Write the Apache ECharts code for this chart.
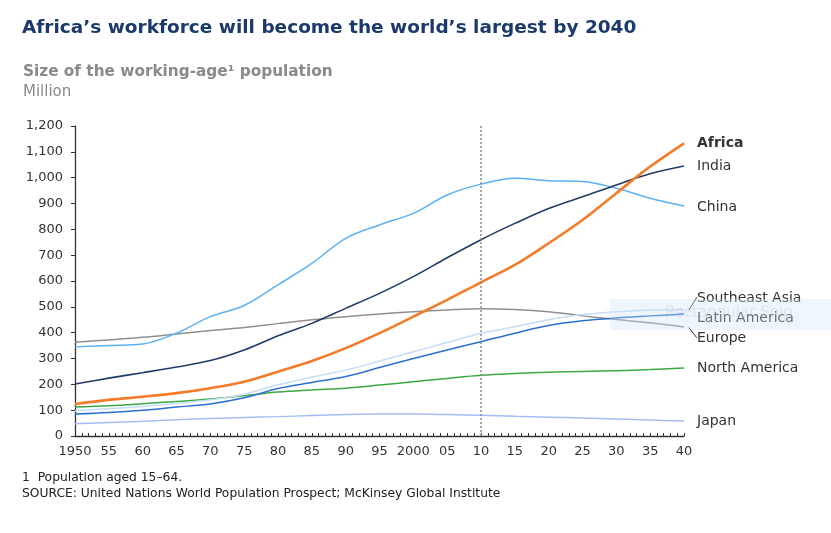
<!DOCTYPE html>
<html>
<head>
<meta charset="utf-8">
<script src="https://cdn.jsdelivr.net/npm/echarts@6/dist/echarts.min.js"></script>
<style>
html,body{margin:0;padding:0;background:#fff;}
#chart{width:831px;height:533px;}
</style>
</head>
<body>
<div id="chart"></div>
<script>
var years = [1950,1955,1960,1965,1970,1975,1980,1985,1990,1995,2000,2005,2010,2015,2020,2025,2030,2035,2040];
var xTickLabels = ['1950','55','60','65','70','75','80','85','90','95','2000','05','10','15','20','25','30','35','40'];
var africa   = [124,140,152,166,185,210,249,290,340,398,462,527,595,662,746,836,940,1043,1133];
var india    = [201,224,245,267,292,333,388,436,494,552,617,690,760,823,881,926,972,1015,1045];
var china    = [345,350,356,398,462,505,585,668,765,817,862,933,975,998,988,985,959,920,890];
var seAsia   = [98,106,114,126,140,162,198,228,255,290,326,362,398,423,450,470,481,487,490];
var latAm    = [85,91,100,112,124,148,184,207,230,265,300,333,365,398,428,446,457,465,472];
var europe   = [363,372,382,395,408,420,435,450,462,472,481,488,493,490,481,465,451,438,422];
var nAmerica = [112,117,125,134,143,156,170,178,185,197,210,223,235,242,247,250,253,257,263];
var japan    = [47,52,57,63,68,72,75,79,83,85,85,83,80,76,73,70,66,62,58];
var markerYear = 2010;

function pairs(vals){ return years.map(function(y,i){ return [y, vals[i]]; }); }

var font = '"DejaVu Sans", "Liberation Sans", Arial, sans-serif';

function mk(name, vals, color, width, labelOpts, extra){
  var s = {
    name: name, type: 'line', data: pairs(vals), smooth: 0.35, showSymbol: false,
    lineStyle: {color: color, width: width}, itemStyle: {color: color},
    silent: true,
    endLabel: Object.assign({show: true, formatter: name, color: '#333', fontSize: 14, fontFamily: font, distance: 13}, labelOpts || {}),
    z: 3
  };
  if (extra) Object.assign(s, extra);
  return s;
}

var chart = echarts.init(document.getElementById('chart'), null, {renderer: 'canvas'});
var option = {
  animation: false,
  backgroundColor: '#fff',
  grid: {left: 75, right: 147, top: 126, bottom: 97, containLabel: false},
  xAxis: {
    type: 'value', min: 1950, max: 2040, interval: 5,
    axisLine: {show: true, lineStyle: {color: '#333', width: 1.3}},
    axisTick: {show: true, inside: true, length: 3, lineStyle: {color: '#333'}},
    minorTick: {show: true, splitNumber: 5, length: 3, lineStyle: {color: '#333'}},
    splitLine: {show: false},
    axisLabel: {color: '#333', fontSize: 13, fontFamily: font, margin: 9,
      formatter: function(v){ var i = years.indexOf(v); return i >= 0 ? xTickLabels[i] : ''; }}
  },
  yAxis: {
    type: 'value', min: 0, max: 1200, interval: 100,
    axisLine: {show: true, lineStyle: {color: '#333', width: 1.3}},
    axisTick: {show: true, inside: false, length: 4, lineStyle: {color: '#333'}},
    splitLine: {show: false},
    axisLabel: {color: '#333', fontSize: 13, fontFamily: font, margin: 12,
      formatter: function(v){ return v.toLocaleString('en-US'); }}
  },
  series: [
    mk('Japan', japan, '#a3bdf3', 1.5),
    mk('North America', nAmerica, '#3fa844', 1.5),
    mk('Europe', europe, '#8f8f8f', 1.5, {offset: [0, 11]}),
    mk('Latin America', latAm, '#2c70cf', 1.5, {offset: [0, 4]}),
    mk('Southeast Asia', seAsia, '#c5def7', 1.5, {offset: [0, -11]}),
    mk('China', china, '#5db1f6', 1.5, {offset: [0, 1]}),
    mk('India', india, '#213c66', 1.6),
    mk('Africa', africa, '#f57b28', 2.6, {fontWeight: 'bold'}, {
      markLine: {silent: true, symbol: 'none', label: {show: false},
        lineStyle: {color: '#8a8a8a', type: [2, 2], width: 1.5},
        data: [{xAxis: markerYear}]}
    })
  ],
  graphic: [
    {id: 'title', type: 'text', left: 22, top: 19, style: {text: 'Africa\u2019s workforce will become the world\u2019s largest by 2040', fill: '#1b3a6b', font: 'bold 18.5px ' + font}},
    {id: 'sub', type: 'text', left: 23, top: 65, style: {text: 'Size of the working-age\u00b9 population', fill: '#8a8a8a', font: 'bold 15.3px ' + font}},
    {id: 'unit', type: 'text', left: 23, top: 85, style: {text: 'Million', fill: '#8a8a8a', font: '15px ' + font}},
    {id: 'fn', type: 'text', left: 22, top: 472, style: {text: '1  Population aged 15\u201364.', fill: '#222', font: '12.3px ' + font}},
    {id: 'src', type: 'text', left: 22, top: 488, style: {text: 'SOURCE: United Nations World Population Prospect; McKinsey Global Institute', fill: '#222', font: '12.3px ' + font}},
    {id: 'snip', type: 'rect', shape: {x: 610, y: 299, width: 221, height: 31}, style: {fill: 'rgba(205,225,248,0.35)'}, z: 10, silent: true},
    {id: 'sniptext', type: 'text', left: 665, top: 306, style: {text: 'Rectangular Snip', fill: 'rgba(170,185,200,0.25)', font: '15px ' + font}, z: 11, silent: true}
  ]
};
chart.setOption(option);

// leader lines for crowded end labels, positioned through the chart's own scales
var leaders = [
  [[2040.7, 487], [2041.9, 537]],
  [[2040.7, 420], [2041.9, 380]]
];
var leaderGraphics = leaders.map(function(seg, i){
  var a = chart.convertToPixel({gridIndex: 0}, seg[0]);
  var b = chart.convertToPixel({gridIndex: 0}, seg[1]);
  return {id: 'leader' + i, type: 'line', shape: {x1: a[0], y1: a[1], x2: b[0], y2: b[1]},
    style: {stroke: '#333', lineWidth: 1}, silent: true, z: 5};
});
chart.setOption({graphic: leaderGraphics});
</script>
</body>
</html>
